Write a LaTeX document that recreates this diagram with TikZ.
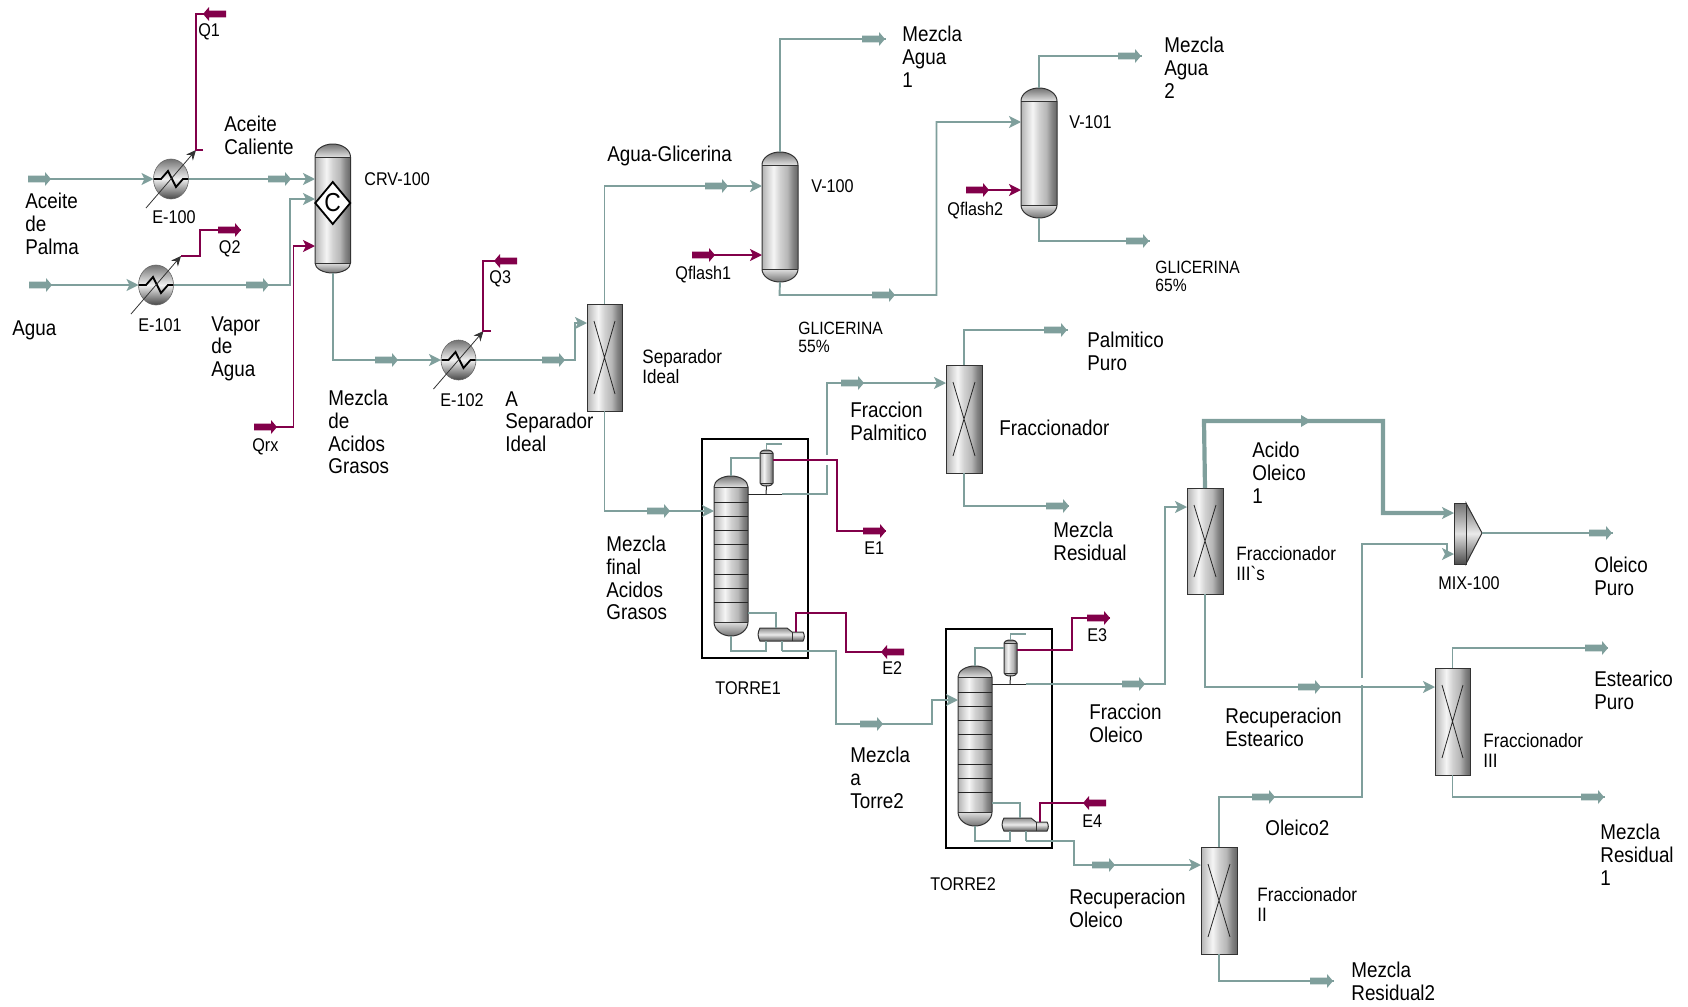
\documentclass[tikz,border=0pt]{standalone}
\usepackage{fontspec}
\setmainfont{Liberation Sans}[FakeStretch=0.88]
\newfontfamily\rawfont{Liberation Sans}[FakeStretch=0.88]
\usetikzlibrary{arrows.meta,shapes.geometric}
\definecolor{strm}{HTML}{7F9F9C}
\definecolor{enrg}{HTML}{82004A}
\pgfdeclarehorizontalshading{metal}{100bp}{color(0bp)=(black!30); color(25bp)=(black!30); color(33bp)=(black!16); color(41bp)=(black!4); color(50bp)=(black!18); color(60bp)=(black!28); color(68bp)=(black!48); color(75bp)=(black!60); color(100bp)=(black!60)}
\tikzset{
  stream/.style={draw=strm,line width=.95pt,line join=miter},
  feed/.style={stream,-{Stealth[length=6pt,width=6pt,inset=1.5pt]}},
  thickstream/.style={stream,line width=2.1pt},
  thickfeed/.style={thickstream,-{Stealth[length=6pt,width=6pt,inset=1.5pt,line width=.95pt]}},
  heat/.style={draw=enrg,line width=.95pt},
  heatfeed/.style={heat,-{Stealth[length=6pt,width=6pt,inset=1.5pt]}},
  intstream/.style={draw=strm,line width=.6pt},
  intheat/.style={draw=enrg,line width=.65pt},
  outl/.style={draw=black!80,line width=.5pt},
  lblbase/.style={anchor=north west,inner sep=0pt,align=left,execute at begin node=\strut},
  lbl/.style={lblbase,font=\fontsize{10.7}{11.3}\selectfont,yshift=4pt},
  lblm/.style={lblbase,font=\fontsize{9.7}{9.7}\selectfont,yshift=3.3pt},
  lbls/.style={lblbase,font=\fontsize{9.2}{9.2}\selectfont,yshift=3.2pt},
  lblg/.style={lblbase,font=\fontsize{8.9}{9.1}\selectfont,yshift=3.1pt},
  anchorbox/.style={rectangle,inner sep=0pt,outer sep=0pt}
}
% #1 name, #2 x0, #3 y0, #4 x1, #5 y1, #6 top cap, #7 bottom cap
\newcommand\vessel[7]{%
  \pgfmathsetmacro\vxm{(#2+#4)/2}\pgfmathsetmacro\vym{(#3+#5)/2}%
  \pgfmathsetmacro\vw{(#4-#2)*.5}\pgfmathsetmacro\vh{(#5-#3)*.5}%
  \pgfmathsetmacro\vr{(#4-#2)*.275}%
  \pgfmathsetmacro\vta{#3+#6}\pgfmathsetmacro\vtb{#3+#6*.45}%
  \pgfmathsetmacro\vba{#5-#7}\pgfmathsetmacro\vbb{#5-#7*.45}%
  \pgfmathsetmacro\vla{\vxm-\vr}\pgfmathsetmacro\vlb{\vxm+\vr}%
  \path[shading=metal,shading angle=0] (#2,\vta) rectangle (#4,\vba);
  \shade[top color=black!55,bottom color=black!12] (#2,\vta) .. controls (#2,\vtb) and (\vla,#3) .. (\vxm,#3) .. controls (\vlb,#3) and (#4,\vtb) .. (#4,\vta) -- cycle;
  \shade[top color=black!12,bottom color=black!55] (#2,\vba) .. controls (#2,\vbb) and (\vla,#5) .. (\vxm,#5) .. controls (\vlb,#5) and (#4,\vbb) .. (#4,\vba) -- cycle;
  \draw[outl] (#2,\vta) .. controls (#2,\vtb) and (\vla,#3) .. (\vxm,#3) .. controls (\vlb,#3) and (#4,\vtb) .. (#4,\vta) -- (#4,\vba) .. controls (#4,\vbb) and (\vlb,#5) .. (\vxm,#5) .. controls (\vla,#5) and (#2,\vbb) .. (#2,\vba) -- cycle;
  \draw[outl] (#2,\vta) -- (#4,\vta) (#2,\vba) -- (#4,\vba);
  \node[anchorbox,minimum width=\vw pt,minimum height=\vh pt] (#1) at (\vxm,\vym) {};
}
% #1 name, #2 x0, #3 y0, #4 x1, #5 y1
\newcommand\fracc[5]{%
  \pgfmathsetmacro\vxm{(#2+#4)/2}\pgfmathsetmacro\vym{(#3+#5)/2}%
  \pgfmathsetmacro\vw{(#4-#2)*.5}\pgfmathsetmacro\vh{(#5-#3)*.5}%
  \node[anchorbox,minimum width=\vw pt,minimum height=\vh pt,shading=metal,draw=black!80,line width=.5pt] (#1) at (\vxm,\vym) {};
  \draw[black!85,line width=.4pt] (#2+7,#3+17) -- (#4-7,#5-17) (#4-7,#3+17) -- (#2+7,#5-17);
}
% #1 name, #2 x, #3 y
\newcommand\exch[3]{%
  \node[ellipse,inner sep=0pt,outer sep=0pt,minimum width=17.5pt,minimum height=20pt,top color=black!55,bottom color=black!72,middle color=black!6,draw=black!60,line width=.3pt] (#1) at (#2,#3) {};
  \draw[black,line width=.9pt,shift={(#2,#3)}] (-17,0) -- (-10,0) -- (-3,-8) -- (5,8) -- (12,0) -- (17,0);
  \draw[black!80,line width=.4pt,-{Stealth[length=5pt,width=4.5pt]},shift={(#2,#3)}] (-25,29) -- (25,-29);
}
\newcommand\fatR[3]{\fill[#3,shift={(#1,#2)}] (0,-3.3) -- (17,-3.3) -- (17,-7) -- (23,0) -- (17,7) -- (17,3.3) -- (0,3.3) -- cycle;}
\newcommand\fatL[3]{\fill[#3,shift={(#1,#2)}] (0,-3.3) -- (-17,-3.3) -- (-17,-7) -- (-23,0) -- (-17,7) -- (-17,3.3) -- (0,3.3) -- cycle;}
% #1 prefix, #2 dx, #3 dy
\newcommand\torre[3]{%
\begin{scope}[shift={(#2,#3)}]
  \node[anchorbox,draw=black,line width=.8pt,minimum width=53pt,minimum height=109.5pt] (#1box) at (755,548.5) {};
  \vessel{#1col}{714}{476}{748}{636}{11}{14}
  \foreach \ty in {502,516,530,544,559,574,588,602}{\draw[black!85,line width=.5pt] (714,\ty) -- (748,\ty);}
  \vessel{#1cond}{760}{450}{773}{486}{3}{3}
  % reboiler
  \shade[top color=black!45,bottom color=black!65,middle color=black!8] (760,628) -- (787,628) -- (792,632) -- (803,632) to[out=-60,in=60] (803,641) -- (760,641) to[out=120,in=-120] (760,628) -- cycle;
  \draw[outl] (760,628) -- (787,628) -- (792,632) -- (803,632) to[out=-60,in=60] (803,641) -- (760,641) to[out=120,in=-120] (760,628) -- cycle;
  \draw[outl] (792,632) -- (792,641);
  \node[anchorbox,minimum width=23pt,minimum height=6.5pt] (#1reb) at (780,634.5) {};
  \coordinate (#1ovh) at (782,494);
  \coordinate (#1bot) at (782,651);
  \coordinate (#1e) at (773,460);
  \coordinate (#1rq) at (807,613);
  \coordinate (#1vent) at (782,444);
  \draw[intstream] (#1col.north) |- (#1cond.west |- 0,458);
  \draw[intstream] (#1cond.north) |- (#1vent);
  \draw[black!85,line width=.5pt] (#1cond.south) -- (766,494);
  \draw[black!85,line width=.5pt] (#1col.east |- 0,494) -- (#1ovh);
  \draw[intstream] (#1col.east |- 0,613) -| (#1reb.north -| 776,0);
  \draw[intstream] (#1col.south) |- (766,651) -- (#1reb.south -| 766,0);
  \draw[intstream] (#1reb.south -| 782,0) -- (#1bot);
  \draw[intheat] (796,632) |- (#1rq);
\end{scope}}
\begin{document}
\begin{tikzpicture}[x=.5pt,y=-.5pt]
\useasboundingbox (0,0) rectangle (1688,1007);
% equipment
\exch{E100}{171}{179}
\exch{E101}{156}{285}
\exch{E102}{458.5}{360}
\vessel{CRV}{315}{144}{350.5}{273}{13}{10}
\node[diamond,aspect=.83,inner sep=0pt,outer sep=0pt,minimum width=17.5pt,minimum height=21pt,fill=white,draw=black,line width=.9pt] (CRVd) at (332.75,203) {};
\node[anchorbox,font=\fontsize{13}{13}\selectfont] (CRVc) at (332.75,203) {C};
\fracc{Sep}{587}{304}{622}{411}
\vessel{V100}{762}{152}{798}{282}{13}{13}
\vessel{V101}{1021}{88}{1057}{218}{13}{13}
\fracc{Frac}{946}{365}{982}{473}
\fracc{FIIIs}{1187}{488}{1223}{594}
\fracc{FII}{1201}{847}{1237}{954}
\fracc{FIII}{1435}{668}{1470}{775}
\torre{Ta}{0}{0}
\torre{Tb}{244}{190}
% mixer
\node[anchorbox,minimum width=14pt,minimum height=30.5pt] (MIX) at (1468,533.5) {};
\shade[top color=black!60,bottom color=black!70,middle color=black!8,draw=black!80,line width=.5pt] (1466,503) -- (1482,533) -- (1466,564) -- cycle;
\shade[top color=black!55,bottom color=black!70,middle color=black!12,draw=black!80,line width=.5pt] (1454,503) rectangle (1466,564);
% free ends
\coordinate (aceiteIn) at (28,179);
\coordinate (aguaIn) at (29,285);
\coordinate (qrxIn) at (254,427);
\coordinate (q1a) at (203,150);
\coordinate (q1b) at (226,14);
\coordinate (q2a) at (181,256);
\coordinate (q2b) at (241,230);
\coordinate (q3a) at (491,331);
\coordinate (q3b) at (517,261);
\coordinate (ag1) at (886,39);
\coordinate (ag2) at (1142,56);
\coordinate (gl65) at (1150,241);
\coordinate (qf1) at (692,255);
\coordinate (qf2) at (966,190);
\coordinate (palm) at (1068,330);
\coordinate (resid) at (1069,506);
\coordinate (e1) at (886,531);
\coordinate (e2) at (904,652);
\coordinate (e3) at (1110,618);
\coordinate (e4) at (1106,803);
\coordinate (mr2) at (1334,981);
\coordinate (olp) at (1613,533);
\coordinate (estp) at (1608,648);
\coordinate (mr1) at (1605,797);
% streams
\draw[feed] (aceiteIn) -- (E100.west);
\draw[feed] (E100.east) -- (CRV.west |- 0,179);
\draw[feed] (aguaIn) -- (E101.west);
\draw[feed] (E101.east) -- (290,285) -- (290,199) -- (CRV.west |- 0,199);
\draw[stream,feed] (CRV.south) |- (E102.west);
\draw[feed] (E102.east) -- (575,360) -- (575,323) -- (Sep.west |- 0,323);
\draw[feed] (Sep.north) |- (V100.west |- 0,186);
\draw[stream] (V100.north) |- (ag1);
\draw[feed] (V100.south) -- (779.5,295) -- (936.5,295) -- (936.5,122) -- (V101.west |- 0,122);
\draw[stream] (V101.north) |- (ag2);
\draw[stream] (V101.south) |- (gl65);
\draw[feed] (Sep.south) |- (Tacol.west |- 0,511);
\draw[feed] (Taovh) -- (827,494) -- (827,383) -- (Frac.west |- 0,383);
\draw[stream] (Frac.north) |- (palm);
\draw[stream] (Frac.south) |- (resid);
\draw[feed] (Tabot) -- (836,651) -- (836,724) -- (932,724) -- (932,700) -- (Tbcol.west |- 0,700);
\draw[feed] (Tbovh) -- (1165,684) -- (1165,507) -- (FIIIs.west |- 0,507);
\draw[feed] (Tbbot) -- (1074,841) -- (1074,865) -- (FII.west |- 0,865);
\draw[feed] (FII.north) -- (1219,797) -- (1362,797) -- (1362,544) -- (1447,544) -- (1447,554) -- (MIX.west |- 0,554);
\draw[stream] (FII.south) |- (mr2);
\draw[thickfeed] (FIIIs.north) -- (1204,421) -- (1383,421) -- (1383,513) -- (MIX.west |- 0,513);
\draw[feed] (FIIIs.south) |- (FIII.west |- 0,687);
\draw[stream] (1482,533) -- (olp);
\draw[stream] (FIII.north) |- (estp);
\draw[stream] (FIII.south) |- (mr1);
% line breaks at crossings
\draw[white,line width=1.6pt] (827,455) -- (827,465);
\draw[white,line width=1.6pt] (1362,678) -- (1362,685);
\draw[stream] (1340,687) -- (1375,687);
% heat lines
\draw[heat] (q1a) -- (196,150) -- (196,14) -- (q1b);
\draw[heat] (q2a) -- (200,256) -- (200,230) -- (q2b);
\draw[heat] (q3a) -- (483,331) -- (483,261) -- (q3b);
\draw[heatfeed] (qrxIn) -- (293.5,427) -- (293.5,246) -- (CRV.west |- 0,246);
\draw[heatfeed] (qf1) -- (V100.west |- 0,255);
\draw[heatfeed] (qf2) -- (V101.west |- 0,190);
\draw[heat] (Tae) -- (837,460) -- (837,531) -- (e1);
\draw[heat] (e2) -- (846,652) -- (846,613) -- (Tarq);
\draw[heat] (Tbe) -- (1072,650) -- (1072,618) -- (e3);
\draw[heat] (e4) -- (Tbrq);
% block arrows
\foreach \ax/\ay in {28/179,268/179,29/285,246/285,375/360,542/360,705/186,862/39,872/295,1118/56,1126/241,647/511,841/383,1044/330,1046/506,860/724,1122/684,1092/865,1252/797,1310/981,1298/687,1589/533,1585/648,1581/797}{\fatR{\ax}{\ay}{strm}}
\foreach \ax/\ay in {218/230,254/427,692/255,966/190,863/531,1087/618}{\fatR{\ax}{\ay}{enrg}}
\foreach \ax/\ay in {226/14,517/261,904/652,1106/803}{\fatL{\ax}{\ay}{enrg}}
\fill[strm] (1301,415) -- (1311,421) -- (1301,427) -- cycle;
% labels
\node[lbls] (tq1) at (198,30) {Q1};
\node[lbl] (taceC) at (224,124) {Aceite\\Caliente};
\node[lbl] (tace) at (25,201) {Aceite\\de\\Palma};
\node[lbls] (tcrv) at (364,179) {CRV-100};
\node[lbls] (te100) at (152,217) {E-100};
\node[lbls] (te101) at (138,325) {E-101};
\node[lbls] (tq2) at (218.5,246.5) {Q2};
\node[lbl] (tagua) at (12,327) {Agua};
\node[lbl] (tvap) at (211,324) {Vapor\\de\\Agua};
\node[lbls] (tqrx) at (252,445) {Qrx};
\node[lbl] (tmez) at (328,398) {Mezcla\\de\\Acidos\\Grasos};
\node[lbls] (te102) at (440,400) {E-102};
\node[lbls] (tq3) at (489,277) {Q3};
\node[lbl] (tasep) at (505,399) {A\\Separador\\Ideal};
\node[lblm] (tsep) at (642,356) {Separador\\Ideal};
\node[lbl] (tagl) at (607,153) {Agua-Glicerina};
\node[lbls] (tv100) at (811,186) {V-100};
\node[lbls] (tqf1) at (675,272) {Qflash1};
\node[lbl] (tma1) at (902,34) {Mezcla\\Agua\\1};
\node[lbls] (tv101) at (1069,122) {V-101};
\node[lbls] (tqf2) at (947,208) {Qflash2};
\node[lbl] (tma2) at (1164,45) {Mezcla\\Agua\\2};
\node[lblg] (tg65) at (1155,267) {GLICERINA\\65\%};
\node[lblg] (tg55) at (798,328) {GLICERINA\\55\%};
\node[lbl] (tpalm) at (1087,340) {Palmitico\\Puro};
\node[lbl] (tfrac) at (999,427) {Fraccionador};
\node[lbl] (tfpal) at (850,410) {Fraccion\\Palmitico};
\node[lbls] (te1) at (864,548) {E1};
\node[lbls] (te2) at (882,668) {E2};
\node[lbls] (tt1) at (715,688) {TORRE1};
\node[lbl] (tmfa) at (606,544) {Mezcla\\final\\Acidos\\Grasos};
\node[lbl] (tmr) at (1053,530) {Mezcla\\Residual};
\node[lbl] (tao1) at (1252,450) {Acido\\Oleico\\1};
\node[lblm] (tf3s) at (1236,553) {Fraccionador\\III{\rawfont `}s};
\node[lbls] (tmix) at (1438,583) {MIX-100};
\node[lbl] (tolp) at (1594,565) {Oleico\\Puro};
\node[lbls] (te3) at (1087,635) {E3};
\node[lbls] (te4) at (1082,821) {E4};
\node[lbl] (tfol) at (1089,712) {Fraccion\\Oleico};
\node[lbl] (tmat) at (850,755) {Mezcla\\a\\Torre2};
\node[lbls] (tt2) at (930,884) {TORRE2};
\node[lbl] (trol) at (1069,897) {Recuperacion\\Oleico};
\node[lbl] (tres) at (1225,716) {Recuperacion\\Estearico};
\node[lbl] (tol2) at (1265,827) {Oleico2};
\node[lblm] (tf2) at (1257,894) {Fraccionador\\II};
\node[lblm] (tf3) at (1483,740) {Fraccionador\\III};
\node[lbl] (test) at (1594,679) {Estearico\\Puro};
\node[lbl] (tmr1) at (1600,832) {Mezcla\\Residual\\1};
\node[lbl] (tmr2) at (1351,970) {Mezcla\\Residual2};
\end{tikzpicture}
\end{document}
